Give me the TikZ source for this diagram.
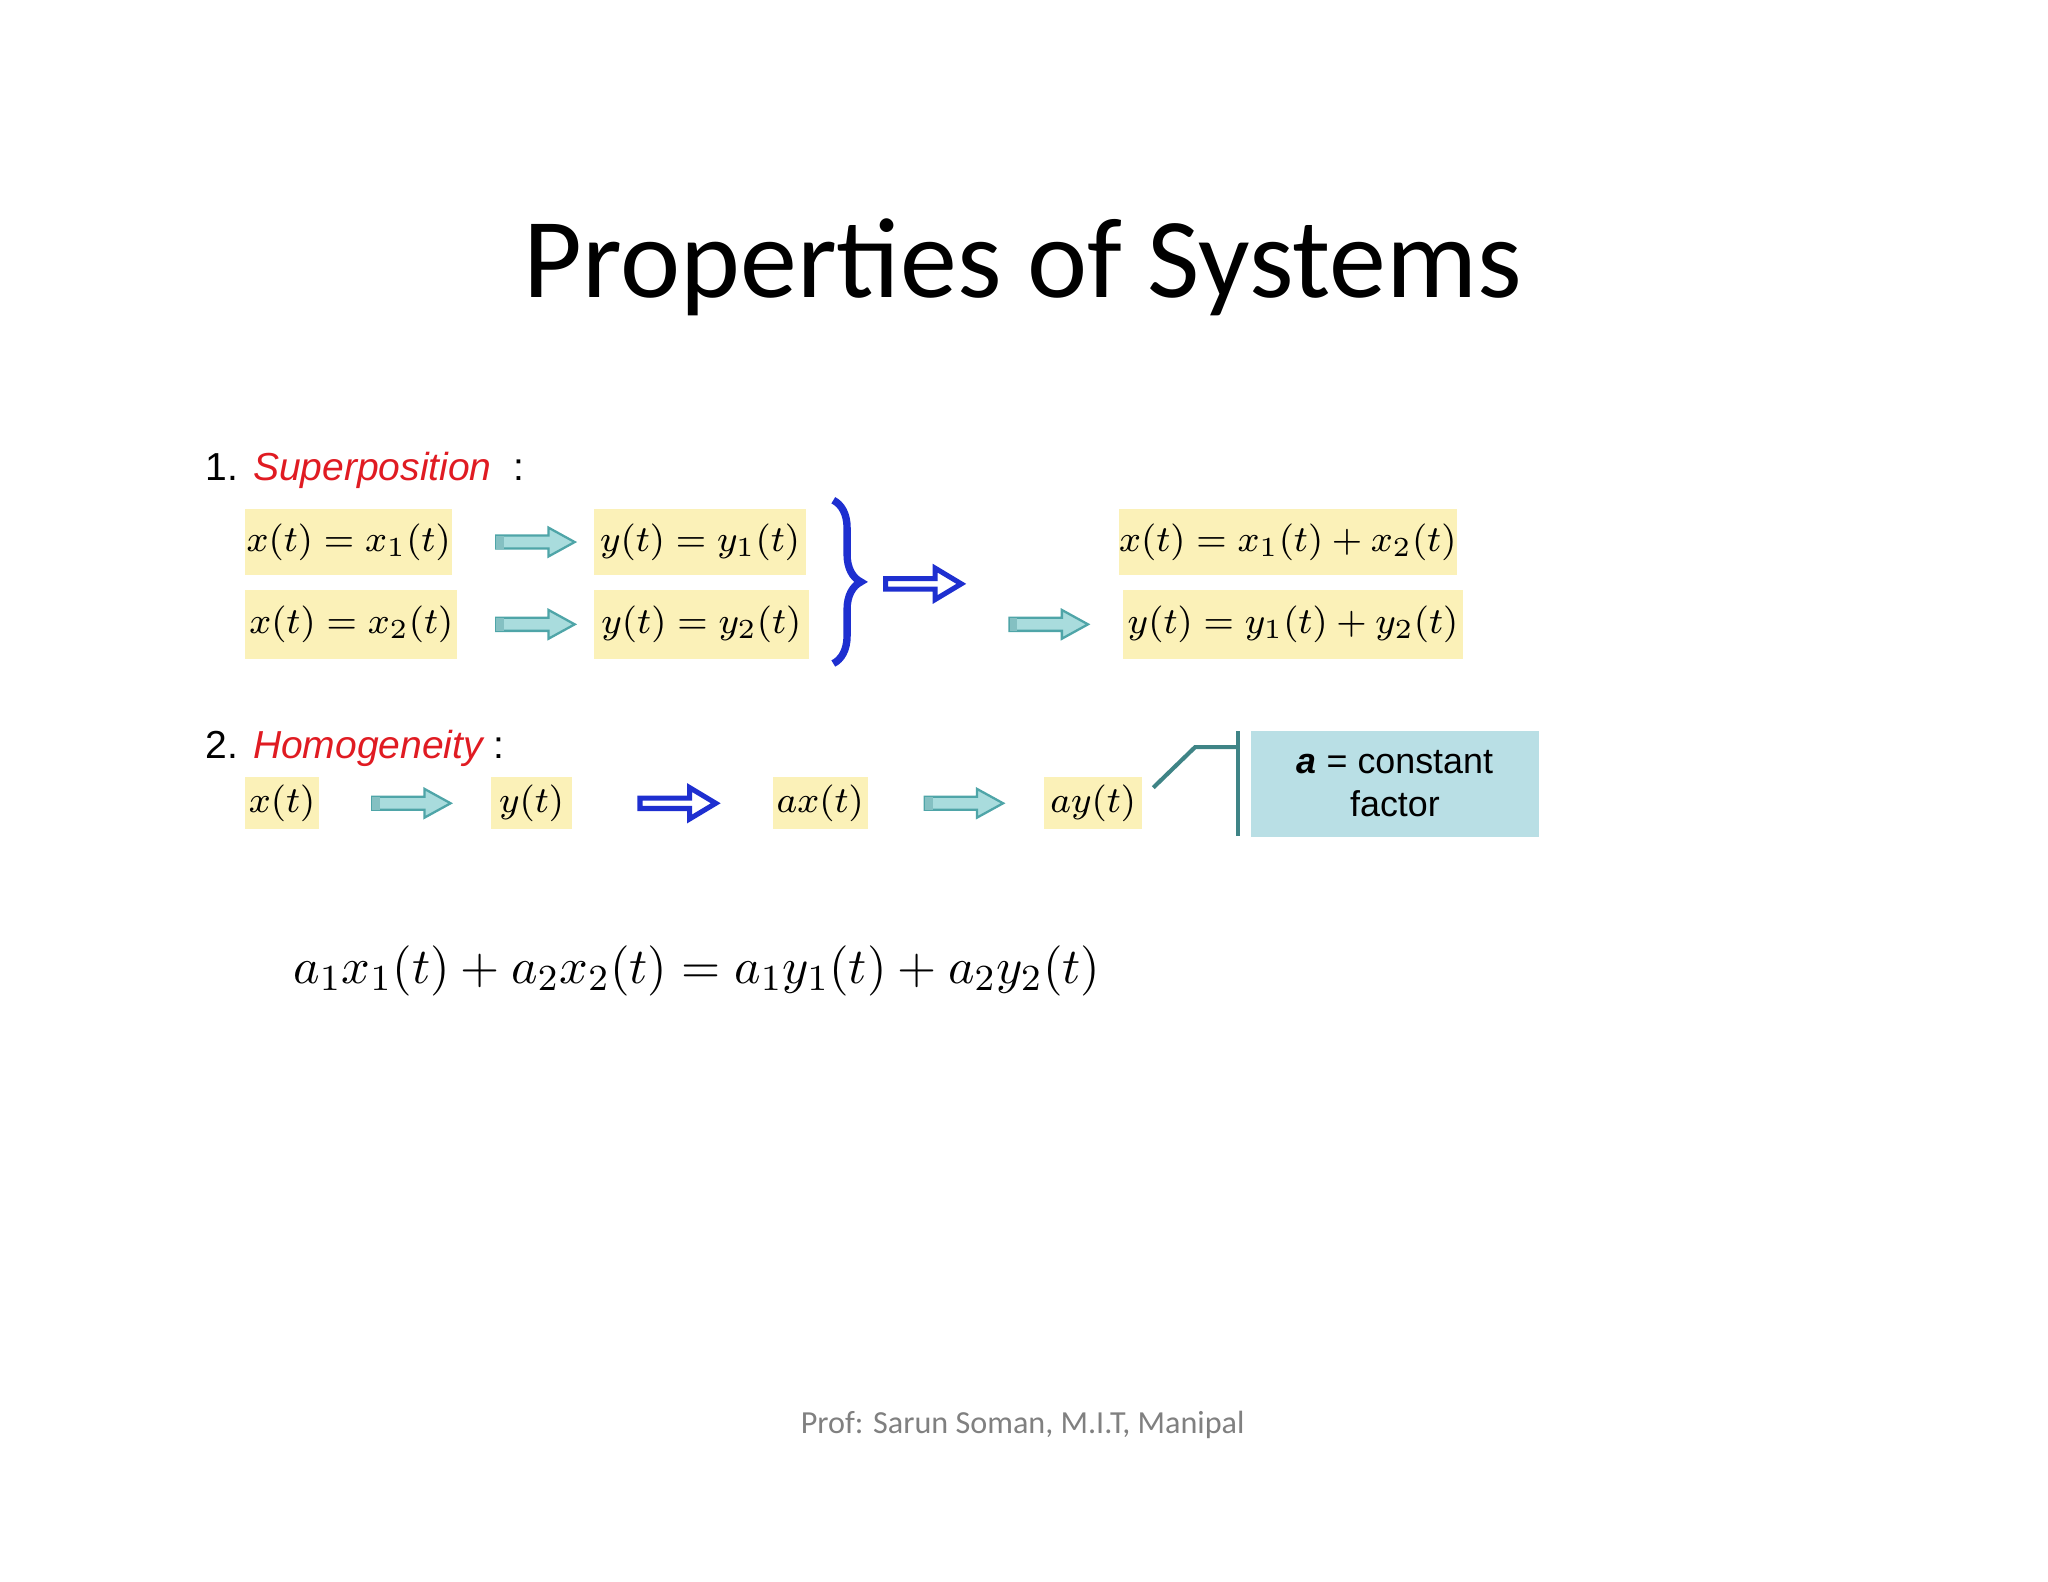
\documentclass[tikz,border=0pt]{standalone}
\usepackage{fontspec}
\setmainfont{Carlito}
\newfontfamily\arialf{Liberation Sans}
\usetikzlibrary{decorations.pathreplacing}
\definecolor{ybox}{HTML}{FBF1B8}
\definecolor{tealf}{HTML}{A9DCDD}
\definecolor{tealb}{HTML}{4FA5A8}
\definecolor{cbox}{HTML}{B9DFE5}
\definecolor{redt}{HTML}{E01B22}
\definecolor{bluea}{HTML}{1E2FD0}
\newcommand{\tarrow}[3]{\coordinate (#1) at (#2,#3);
  \draw[fill=tealf,draw=tealb,line width=0.5pt] ([shift={(-30,-5)}]#1) -- ++(40,0) -- ++(0,-6) -- ++(20,11) -- ++(-20,11) -- ++(0,-6) -- ++(-40,0) -- cycle;
  \fill[tealb!70] ([shift={(-30,-5)}]#1) rectangle ++(6,10);}
\newcommand{\barrow}[3]{\coordinate (#1) at (#2,#3);
  \draw[fill=white,draw=bluea,line width=1.1pt,line join=miter] ([shift={(-29,-4)}]#1) -- ++(38,0) -- ++(0,-8) -- ++(20,12) -- ++(-20,12) -- ++(0,-8) -- ++(-38,0) -- cycle;}
\begin{document}
\begin{tikzpicture}[x=0.01cm,y=-0.01cm,
  yb/.style={fill=ybox,draw=none,inner sep=0pt,font=\fontsize{8.5}{11}\selectfont},
  lbl/.style={anchor=west,font=\arialf\fontsize{8.5}{10}\selectfont,inner sep=0pt}]
\useasboundingbox (0,0) rectangle (1568,1211);
\node (title) at (783,205) {\fontsize{24.8}{30}\selectfont Properties of Systems};
\node[lbl] (h1) at (157,360) {1. \textcolor{redt}{\itshape Superposition}\ \ :};
\node[yb,minimum width=1.58cm,minimum height=0.5cm] (a1) at (267,415) {$x(t)=x_1(t)$};
\tarrow{r1}{410}{415}
\node[yb,minimum width=1.62cm,minimum height=0.5cm] (b1) at (536,415) {$y(t)=y_1(t)$};
\node[yb,minimum width=1.62cm,minimum height=0.53cm] (a2) at (269,478) {$x(t)=x_2(t)$};
\tarrow{r2}{410}{478}
\node[yb,minimum width=1.65cm,minimum height=0.53cm] (b2) at (537,478) {$y(t)=y_2(t)$};
\coordinate (bt) at (638,383); \coordinate (bb) at (638,508);
\draw[bluea,line width=1.6pt,decorate,decoration={brace,amplitude=6pt}] (bt) -- (bb);
\barrow{d1}{707}{447}
\node[yb,minimum width=2.52cm,minimum height=0.5cm] (c1) at (986,415) {$x(t)=x_1(t)+x_2(t)$};
\tarrow{r3}{803}{478}
\node[yb,minimum width=2.6cm,minimum height=0.53cm] (c2) at (990,478) {$y(t)=y_1(t)+y_2(t)$};
\node[lbl] (h2) at (157,573) {2. \textcolor{redt}{\itshape Homogeneity}\ :};
\node[yb,minimum width=0.57cm,minimum height=0.4cm] (e1) at (216,615) {$x(t)$};
\tarrow{r4}{315}{615}
\node[yb,minimum width=0.62cm,minimum height=0.4cm] (e2) at (407,615) {$y(t)$};
\barrow{d2}{519}{615}
\node[yb,minimum width=0.73cm,minimum height=0.4cm] (e3) at (628,615) {$ax(t)$};
\tarrow{r5}{738}{615}
\node[yb,minimum width=0.75cm,minimum height=0.4cm] (e4) at (837,615) {$ay(t)$};
\node[fill=cbox,minimum width=2.2cm,minimum height=0.81cm,align=center,font=\arialf\fontsize{7.8}{9.5}\selectfont,inner sep=0pt] (cb) at (1068,600) {\textit{\textbf{a}} = constant\\factor};
\coordinate (k1) at (883,603); \coordinate (k2) at (915,572); \coordinate (k3) at (948,572);
\coordinate (v1) at (948,560); \coordinate (v2) at (948,640);
\draw[tealb!80!black,line width=0.9pt] (k1) -- (k2) -- (k3);
\draw[tealb!80!black,line width=0.9pt] (v1) -- (v2);
\node[anchor=west,inner sep=0pt] (eq) at (224,743) {\fontsize{11.2}{14}\selectfont $a_1x_1(t)+a_2x_2(t)=a_1y_1(t)+a_2y_2(t)$};
\node[text=gray,font=\fontsize{7}{9}\selectfont] (ft) at (783,1091) {Prof: Sarun Soman, M.I.T, Manipal};
\end{tikzpicture}
\end{document}
